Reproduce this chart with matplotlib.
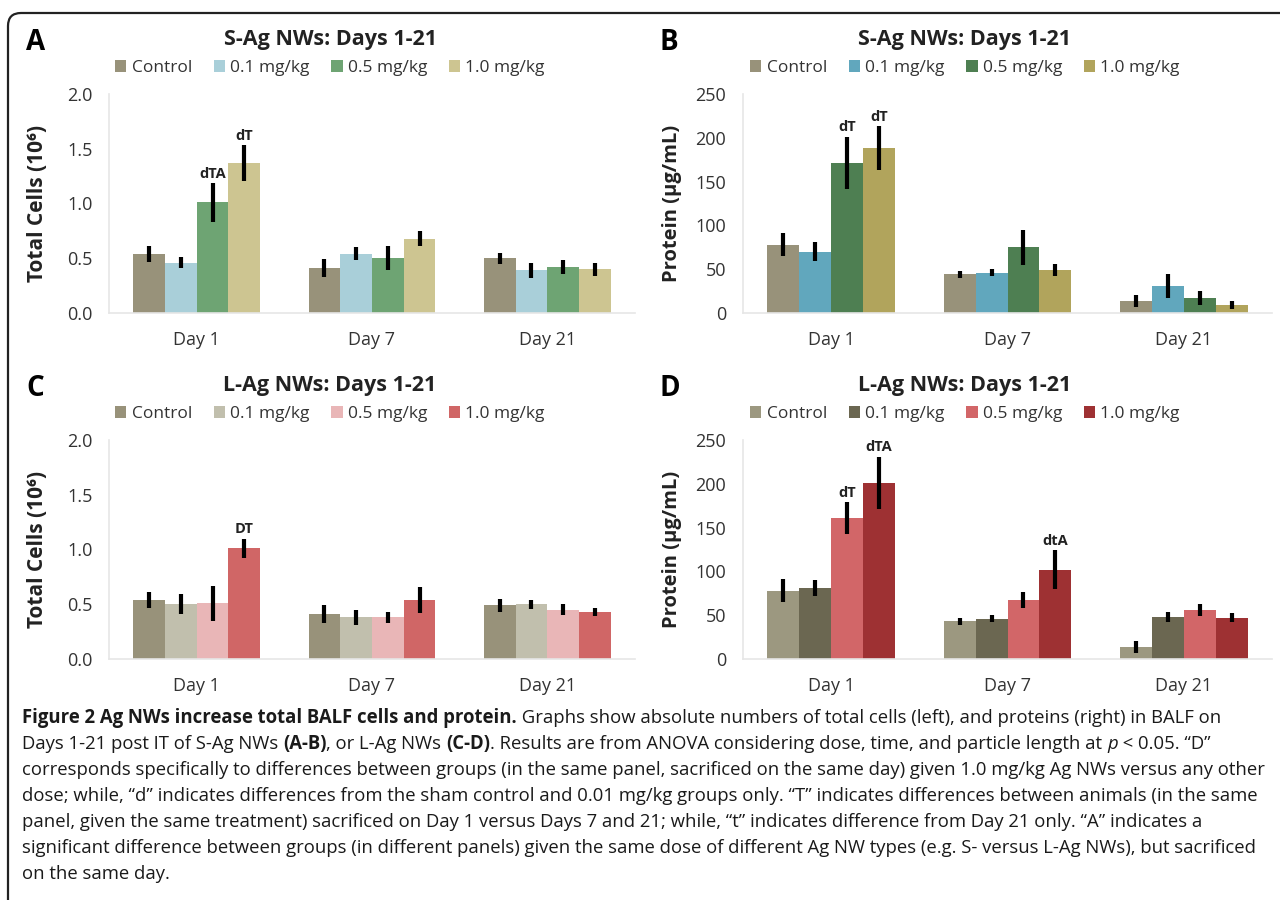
import matplotlib
matplotlib.use("Agg")
import matplotlib.pyplot as plt
import numpy as np
from matplotlib.patches import FancyBboxPatch, Rectangle

plt.rcParams['font.family'] = ['Open Sans', 'DejaVu Sans']

# ---------------- data ----------------
days = ["Day 1", "Day 7", "Day 21"]
doses = ["Control", "0.1 mg/kg", "0.5 mg/kg", "1.0 mg/kg"]

# Panel A: S-Ag NWs total cells (10^6)
a_vals = [[0.54, 0.41, 0.50], [0.46, 0.54, 0.39], [1.01, 0.50, 0.42], [1.37, 0.68, 0.40]]
a_errs = [[0.07, 0.08, 0.05], [0.05, 0.06, 0.07], [0.18, 0.11, 0.06], [0.16, 0.07, 0.06]]
# Panel B: S-Ag NWs protein (ug/mL)
b_vals = [[78, 44, 14], [70, 46, 31], [171, 75, 17], [188, 49, 9]]
b_errs = [[13, 4, 7], [11, 4, 14], [30, 20, 8], [25, 7, 5]]
# Panel C: L-Ag NWs total cells (10^6)
c_vals = [[0.54, 0.41, 0.49], [0.50, 0.38, 0.50], [0.51, 0.38, 0.45], [1.01, 0.54, 0.43]]
c_errs = [[0.07, 0.08, 0.06], [0.09, 0.07, 0.04], [0.16, 0.05, 0.05], [0.09, 0.12, 0.04]]
# Panel D: L-Ag NWs protein (ug/mL)
d_vals = [[78, 43, 14], [81, 46, 48], [161, 67, 56], [201, 102, 47]]
d_errs = [[13, 4, 7], [9, 4, 6], [18, 9, 7], [30, 22, 5]]

a_notes = [(2, 0, "dTA"), (3, 0, "dT")]
b_notes = [(2, 0, "dT"), (3, 0, "dT")]
c_notes = [(3, 0, "DT")]
d_notes = [(2, 0, "dT"), (3, 0, "dTA"), (3, 1, "dtA")]

a_colors = ["#98927a", "#a9cfd9", "#6ea473", "#cdc591"]
b_colors = ["#98927a", "#61a7bd", "#4e7f52", "#b1a45c"]
c_colors = ["#98927a", "#c1bfad", "#e9b6b7", "#d06666"]
d_colors = ["#9c9880", "#6b6751", "#d26668", "#9e3133"]

cells_ticks = [0.0, 0.5, 1.0, 1.5, 2.0]
cells_ticklabels = ["0.0", "0.5", "1.0", "1.5", "2.0"]
prot_ticks = [0, 50, 100, 150, 200, 250]
prot_ticklabels = ["0", "50", "100", "150", "200", "250"]

W, H = 1280, 900
fig = plt.figure(figsize=(W / 100, H / 100), dpi=100)

def fx(px):
    return px / W

def fy(py):
    return 1 - py / H

# border box
box = FancyBboxPatch((0.08, -0.3), 13.5, 8.87 + 0.3, boxstyle="round,pad=0,rounding_size=0.13",
                     transform=fig.dpi_scale_trans, facecolor="none", edgecolor="#222222",
                     linewidth=1.6, clip_on=False)
fig.patches.append(box)

def panel(letter, title, left, right, top, bottom, vals, errs, colors, ticks, ticklabels,
          ymax, ylabel, ylsize, notes, title_cx, note_off):
    ax = fig.add_axes([fx(left), fy(bottom), fx(right - left), (bottom - top) / H])
    x = np.arange(len(days))
    bw = 0.181
    for i in range(4):
        pos = x + (i - 1.5) * bw
        ax.bar(pos, vals[i], width=bw, color=colors[i], edgecolor="none", zorder=2,
               label=doses[i])
        ax.errorbar(pos, vals[i], yerr=errs[i], fmt="none", ecolor="black",
                    elinewidth=3.0, capsize=0, zorder=3)
    for (i, d, t) in notes:
        ax.text(d + (i - 1.5) * bw, vals[i][d] + errs[i][d] + note_off, t, ha="center",
                va="bottom", fontsize=10.5, fontweight="bold", color="#222222")
    ax.set_xlim(-0.5, 2.5)
    ax.set_ylim(0, ymax)
    ax.set_yticks(ticks)
    ax.set_yticklabels(ticklabels)
    ax.set_xticks(x)
    ax.set_xticklabels(days)
    ax.tick_params(axis="both", length=0, labelsize=13, colors="#333333")
    ax.tick_params(axis="x", pad=13)
    ax.tick_params(axis="y", pad=12)
    for s in ["top", "right"]:
        ax.spines[s].set_visible(False)
    for s in ["left", "bottom"]:
        ax.spines[s].set_color("#e6e6e6")
        ax.spines[s].set_linewidth(1.2)
    ax.set_facecolor("none")
    # y label
    fig.text(fx(left - 71), fy((top + bottom) / 2), ylabel, rotation=90, ha="center",
             va="center", fontsize=ylsize, fontweight="bold", color="#222222")
    # title
    fig.text(fx(title_cx), fy(top - 54), title, ha="center", va="center", fontsize=15.5,
             fontweight="bold", color="#222222")
    # panel letter
    fig.text(fx(left - 83), fy(top - 52), letter, ha="left", va="center", fontsize=20,
             fontweight="bold", color="black")
    # legend
    handles = [Rectangle((0, 0), 1, 1, facecolor=c, edgecolor="none") for c in colors]
    leg = fig.legend(handles, doses, loc="center", bbox_to_anchor=(fx(title_cx), fy(top - 26)),
                     ncol=4, frameon=False, fontsize=12.5, handlelength=0.65, handleheight=0.65,
                     handletextpad=0.3, columnspacing=1.25, borderaxespad=0)
    for t in leg.get_texts():
        t.set_color("#333333")
    return ax

panel("A", "S-Ag NWs: Days 1-21", 109, 635, 94, 313, a_vals, a_errs, a_colors,
      cells_ticks, cells_ticklabels, 2.0, "Total Cells (10⁶)", 15, a_notes, 330, 0.02)
panel("B", "S-Ag NWs: Days 1-21", 743, 1272, 94, 313, b_vals, b_errs, b_colors,
      prot_ticks, prot_ticklabels, 250, "Protein (µg/mL)", 14.5, b_notes, 965, 3)
panel("C", "L-Ag NWs: Days 1-21", 109, 635, 440, 659, c_vals, c_errs, c_colors,
      cells_ticks, cells_ticklabels, 2.0, "Total Cells (10⁶)", 15, c_notes, 330, 0.02)
panel("D", "L-Ag NWs: Days 1-21", 743, 1272, 440, 659, d_vals, d_errs, d_colors,
      prot_ticks, prot_ticklabels, 250, "Protein (µg/mL)", 14.5, d_notes, 965, 3)

# ---------------- caption ----------------
caption_lines = [
    [("Figure 2 Ag NWs increase total BALF cells and protein.", "bold", "normal"),
     (" Graphs show absolute numbers of total cells (left), and proteins (right) in BALF on", "normal", "normal")],
    [("Days 1-21 post IT of S-Ag NWs ", "normal", "normal"), ("(A-B)", "bold", "normal"),
     (", or L-Ag NWs ", "normal", "normal"), ("(C-D)", "bold", "normal"),
     (". Results are from ANOVA considering dose, time, and particle length at ", "normal", "normal"),
     ("p", "normal", "italic"), (" < 0.05. \u201cD\u201d", "normal", "normal")],
    [("corresponds specifically to differences between groups (in the same panel, sacrificed on the same day) given 1.0 mg/kg Ag NWs versus any other", "normal", "normal")],
    [("dose; while, \u201cd\u201d indicates differences from the sham control and 0.01 mg/kg groups only. \u201cT\u201d indicates differences between animals (in the same", "normal", "normal")],
    [("panel, given the same treatment) sacrificed on Day 1 versus Days 7 and 21; while, \u201ct\u201d indicates difference from Day 21 only. \u201cA\u201d indicates a", "normal", "normal")],
    [("significant difference between groups (in different panels) given the same dose of different Ag NW types (e.g. S- versus L-Ag NWs), but sacrificed", "normal", "normal")],
    [("on the same day.", "normal", "normal")],
]

renderer = fig.canvas.get_renderer()
probe = fig.text(0, 0, caption_lines[2][0][0], fontsize=12)
wprobe = probe.get_window_extent(renderer).width
probe.remove()
cap_size = 12 * (1260 - 22) / wprobe

x0, y0, dy = 22, 718, 26
for k, segs in enumerate(caption_lines):
    xp = x0
    for (s, wgt, sty) in segs:
        t = fig.text(fx(xp), fy(y0 + k * dy), s, fontsize=cap_size, fontweight=wgt,
                     fontstyle=sty, ha="left", va="center", color="#1a1a1a")
        xp += t.get_window_extent(renderer).width

fig.savefig("out.png", dpi=100)
